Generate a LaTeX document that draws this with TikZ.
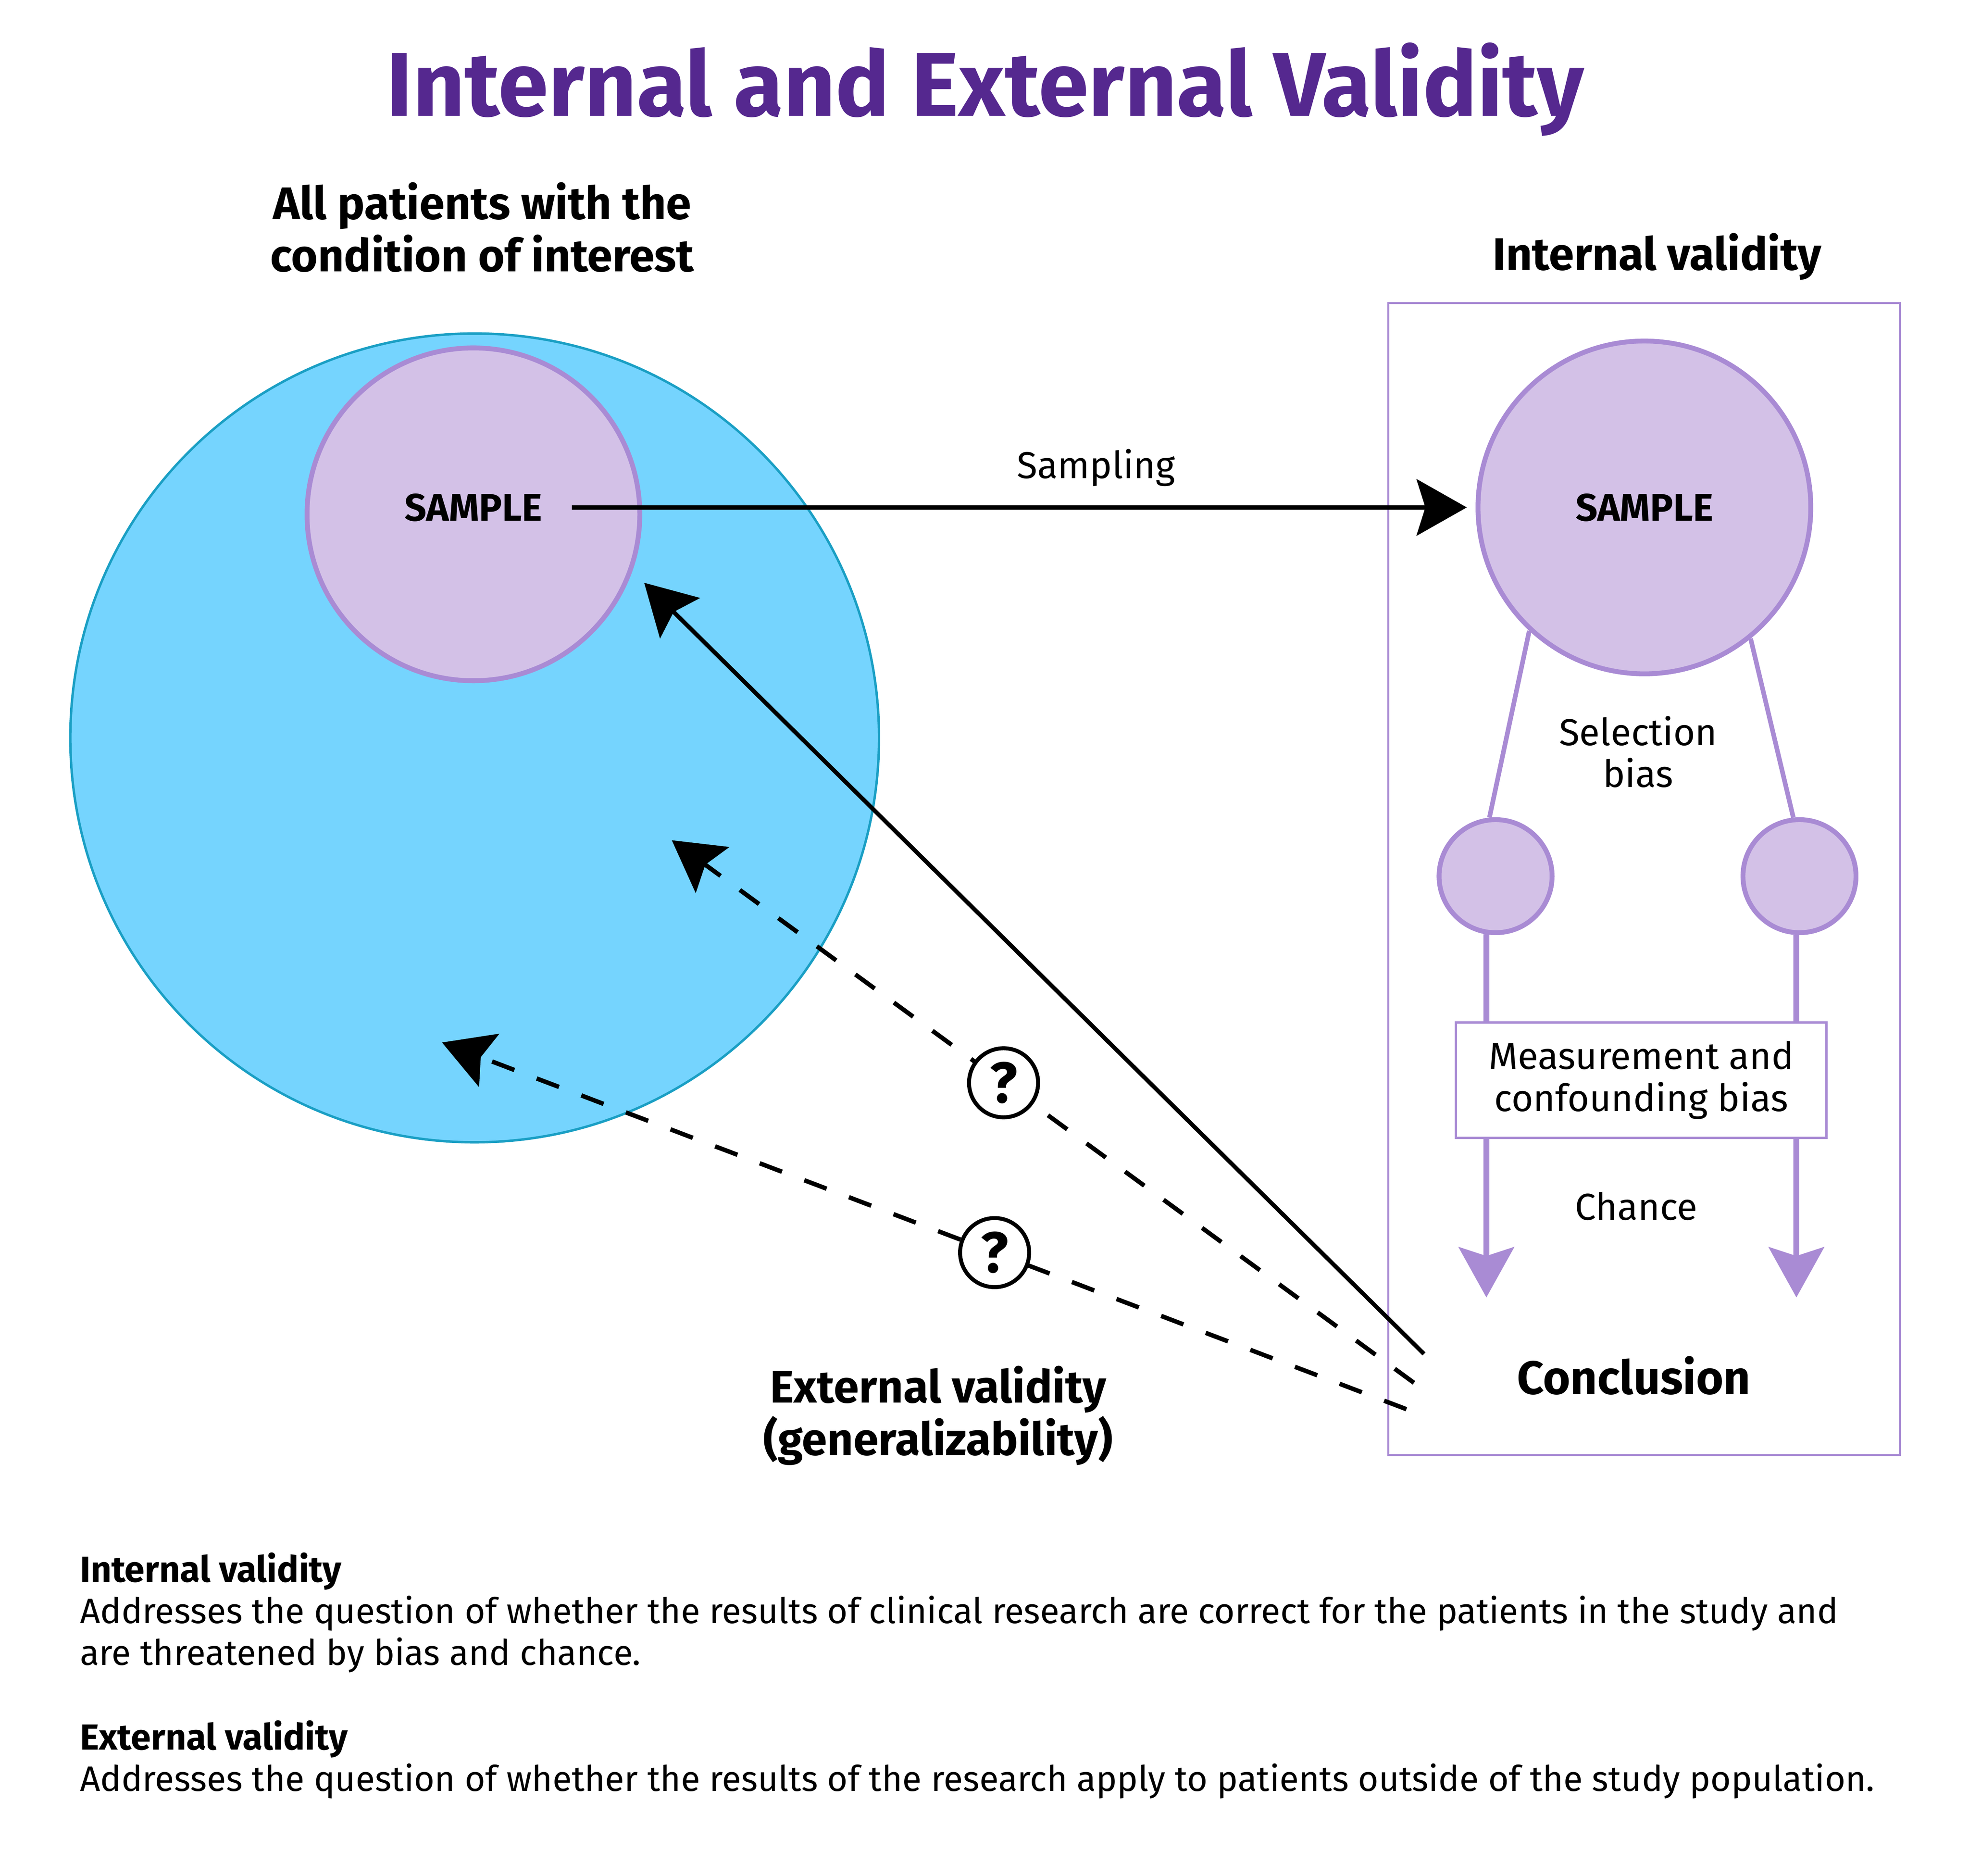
\documentclass[tikz,border=0pt]{standalone}
\usepackage{fontspec}
\setmainfont{Fira Sans}
\usetikzlibrary{arrows.meta}
\definecolor{ivtitle}{HTML}{55288F}
\definecolor{popfill}{HTML}{75D4FE}
\definecolor{popedge}{HTML}{1A9FC4}
\definecolor{lilac}{HTML}{D3C1E7}
\definecolor{lilacedge}{HTML}{A98BD4}
\tikzstyle{popcirc} = [circle, inner sep=0pt, minimum size=64.4mm, fill=popfill, draw=popedge, line width=0.55pt]
\tikzstyle{sampcirc} = [circle, inner sep=0pt, minimum size=26.5mm, fill=lilac, draw=lilacedge, line width=1.1pt, font=\fontsize{8.7}{10}\selectfont\bfseries]
\tikzstyle{armcirc} = [circle, inner sep=0pt, minimum size=9mm, fill=lilac, draw=lilacedge, line width=1.1pt]
\tikzstyle{qcirc} = [circle, solid, inner sep=0pt, minimum size=5.5mm, fill=white, draw=black, line width=0.9pt, font=\fontsize{13}{13}\selectfont\bfseries]
\tikzstyle{lbl} = [font=\fontsize{8.5}{9.5}\selectfont, align=center]
\tikzstyle{hdr} = [font=\fontsize{10.3}{11.9}\selectfont\bfseries, align=center]
\tikzstyle{txt} = [font=\fontsize{8}{9.45}\selectfont, align=left, anchor=base west, inner sep=0pt]
\tikzstyle{txthead} = [txt, font=\fontsize{8.2}{9.45}\selectfont\bfseries]
\tikzstyle{solidarr} = [line width=0.95pt, -{Stealth[length=4mm, width=4.5mm, inset=0.7mm]}]
\tikzstyle{dasharr} = [solidarr, line width=1pt, dash pattern=on 1.9mm off 1.9mm]
\tikzstyle{purpline} = [draw=lilacedge, line width=1.05pt]
\tikzstyle{purparr} = [draw=lilacedge, line width=1.3pt, -{Stealth[length=4mm, width=4.4mm, inset=0.7mm]}]
\newcommand{\qm}[1]{node[qcirc, pos=#1] {?}}

\begin{document}
\begin{tikzpicture}[x=0.1mm, y=-0.1mm]
\useasboundingbox (0,0) rectangle (1568,1493.6);
% titles
\node[font=\fontsize{20.5}{22}\selectfont\bfseries, text=ivtitle, anchor=base] (title) at (784.5,92.2) {Internal and External Validity};
\node[hdr] (pophead) at (384,181) {All patients with the\\condition of interest};
\node[hdr, anchor=base] (inthdr) at (1319.5,215) {Internal validity};

% population and sample
\node[popcirc] (pop) at (378,587.5) {};
\node[sampcirc] (sampL) at (377,409.5) {};
\node[font=\fontsize{8.7}{10}\selectfont\bfseries, inner xsep=2.3mm, inner ysep=0pt] (sampLtxt) at (377,404) {SAMPLE};

% internal validity frame
\node[draw=lilacedge, line width=0.45pt, minimum width=40.74mm, minimum height=91.73mm] (frame) at (1309.3,700) {};
\node[sampcirc] (sampR) at (1309.5,404) {SAMPLE};
\node[armcirc] (armL) at (1191,697.6) {};
\node[armcirc] (armR) at (1433,697.6) {};
\node[lbl] (selbias) at (1304.5,598.7) {Selection\\bias};
\node[lbl, draw=lilacedge, line width=0.55pt, fill=white, minimum width=29.5mm, minimum height=9.2mm] (meas) at (1307,860) {Measurement and\\confounding bias};
\node[lbl, anchor=base] (chance) at (1303,971.5) {Chance};
\node[font=\fontsize{10.6}{12}\selectfont\bfseries, anchor=base] (concl) at (1301,1110) {Conclusion};
\coordinate (bot) at (0,1033);

\draw[purpline] (sampR.227) -- (armL.96);
\draw[purpline] (sampR.309) -- (armR.96);
\draw[purpline, line width=1.3pt] (armL.261) -- (armL.261 |- meas.north);
\draw[purpline, line width=1.3pt] (armR.267) -- (armR.267 |- meas.north);
\draw[purparr] (armL.261 |- meas.south) -- (armL.261 |- bot);
\draw[purparr] (armR.267 |- meas.south) -- (armR.267 |- bot);

% sampling and generalization
\draw[solidarr, shorten >=0.7mm] (sampLtxt.east) -- node[lbl, pos=0.58, inner sep=0pt, above=1.5mm] (samplbl) {Sampling} (sampR.west);

\coordinate (fanA) at (1134,1078);
\coordinate (fanB) at (1126,1101);
\coordinate (fanC) at (1120,1122);
\coordinate (tipA) at (513,464);
\coordinate (tipB) at (535,669);
\coordinate (tipC) at (352,830);
\draw[solidarr] (fanA) -- (tipA);
\draw[dasharr] (fanB) -- (tipB) \qm{0.553};
\draw[dasharr] (fanC) -- (tipC) \qm{0.427};
\node[hdr] (exthdr) at (747,1127) {External validity\\(generalizability)};

% definitions
\node[txthead] (intdef) at (63,1259.4) {Internal validity};
\node[txt] (inttext) at (63,1325.7) {Addresses the question of whether the results of clinical research are correct for the patients in the study and\\are threatened by bias and chance.};
\node[txthead] (extdef) at (63,1393) {External validity};
\node[txt] (exttext) at (63,1426.2) {Addresses the question of whether the results of the research apply to patients outside of the study population.};
\end{tikzpicture}
\end{document}
